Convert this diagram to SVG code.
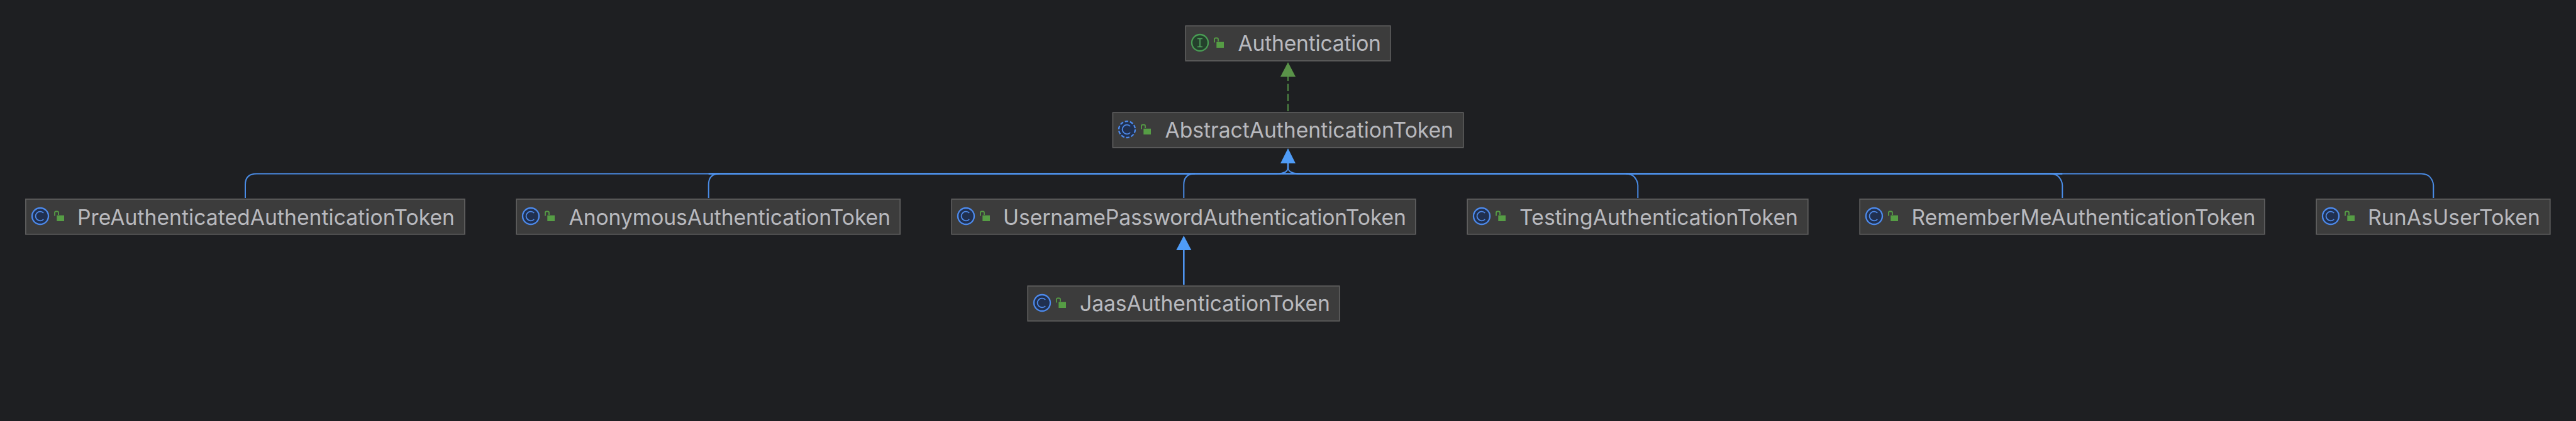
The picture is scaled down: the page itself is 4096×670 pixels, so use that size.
<svg xmlns="http://www.w3.org/2000/svg" width="4096" height="670" viewBox="0 0 4096 670">
<style>
.box{fill:#3c3c3c;stroke:#5f5f5f;stroke-width:1.7}
.t{font-family:Inter,"Noto Sans",sans-serif;font-size:33.7px;fill:#b8b9be}
.ci{fill:#203050;stroke:#4d8aec;stroke-width:2.3}
.cc{fill:none;stroke:#4f8ae8;stroke-width:1.8}
.ii{fill:#24402c;stroke:#499c54;stroke-width:2.3}
.lk{fill:#569d45}
.lh{fill:none;stroke:#569d45;stroke-width:1.8}
.e{fill:none;stroke:#4a8ce6;stroke-width:2}
.bus{fill:none;stroke:#4f95f0;stroke-width:2.6}
.a{fill:#4f9cf7}
.g{fill:#5a9349}
.d{fill:none;stroke:#4f8a44;stroke-width:2;stroke-dasharray:11.5 4.5}
</style>
<defs>
<g id="cic"><circle cx="0" cy="0" r="13" class="ci"/><path d="M5.2 -5A7.3 7.3 0 1 0 5.2 5" class="cc"/></g>
<g id="lock"><rect x="26.3" y="-1.3" width="11.7" height="9.3" class="lk"/><path d="M23 -0.5V-5.5Q23 -7.5 25 -7.5H27Q29 -7.5 29 -5.5V-2" class="lh"/></g>
</defs>
<rect width="4096" height="670" fill="#1e1f22"/>
<g id="connectors">
<path class="d" d="M2048 177V122"/>
<path class="g" d="M2048 99L2060 122H2036Z"/>
<path class="e" d="M2048 262V268Q2046 276.5 2030 276.5H408Q390 276.5 390 294V315"/>
<path class="e" d="M1126.7 315V294Q1126.7 276.5 1144 276.5"/>
<path class="e" d="M1882.3 315V294Q1882.3 276.5 1900 276.5"/>
<path class="e" d="M2048 268Q2050 276.5 2068 276.5H3850Q3860 277 3864 282Q3869 288 3869.3 295V315"/>
<path class="e" d="M2604.3 315V295Q2604 288 2599 282Q2595 277 2585 276.5"/>
<path class="e" d="M3279.3 315V295Q3279 288 3274 282Q3270 277 3260 276.5"/>
<path class="bus" d="M1126.7 276.5H3279.3"/>
<path class="bus" d="M2048 258V269"/>
<path class="a" d="M2048 236L2060 260H2036Z"/>
<path class="bus" d="M1882.3 453.3V396"/>
<path class="a" d="M1882.3 375L1894.3 398H1870.3Z"/>
</g>
<g id="authentication"><rect class="box" x="1885.2" y="41.2" width="325.6" height="55.6"/><circle cx="1908" cy="68" r="13" class="ii"/><path d="M1904 61.5H1912M1908 61.5V74.5M1904 74.5H1912" fill="none" stroke="#52a45e" stroke-width="1.6"/><use href="#lock" x="1908" y="68"/><text class="t" x="1968.5" y="81" textLength="227.5">Authentication</text></g>
<g id="abstract"><rect class="box" x="1769.4" y="179.2" width="557.4" height="55.6"/><circle cx="1792" cy="206" r="13" class="ci" stroke-dasharray="5.5 2.7"/><path d="M1797.2 201A7.3 7.3 0 1 0 1797.2 211" class="cc"/><use href="#lock" x="1792" y="206"/><text class="t" x="1852.5" y="219" textLength="458.5">AbstractAuthenticationToken</text></g>
<g id="pre"><rect class="box" x="40.9" y="316.9" width="698" height="55.9"/><use href="#cic" x="64" y="344"/><use href="#lock" x="64" y="344"/><text class="t" x="123" y="357.5" textLength="600">PreAuthenticatedAuthenticationToken</text></g>
<g id="anon"><rect class="box" x="821.2" y="316.9" width="610" height="55.9"/><use href="#cic" x="844" y="344"/><use href="#lock" x="844" y="344"/><text class="t" x="904.5" y="357.5" textLength="511.5">AnonymousAuthenticationToken</text></g>
<g id="username"><rect class="box" x="1513.2" y="316.9" width="737.6" height="55.9"/><use href="#cic" x="1536" y="344"/><use href="#lock" x="1536" y="344"/><text class="t" x="1595" y="357.5" textLength="641">UsernamePasswordAuthenticationToken</text></g>
<g id="testing"><rect class="box" x="2333.2" y="316.9" width="541.6" height="55.9"/><use href="#cic" x="2356" y="344"/><use href="#lock" x="2356" y="344"/><text class="t" x="2416" y="357.5" textLength="443">TestingAuthenticationToken</text></g>
<g id="rememberme"><rect class="box" x="2957.2" y="316.9" width="643.6" height="55.9"/><use href="#cic" x="2980" y="344"/><use href="#lock" x="2980" y="344"/><text class="t" x="3039.5" y="357.5" textLength="547">RememberMeAuthenticationToken</text></g>
<g id="runas"><rect class="box" x="3683.2" y="316.9" width="371.6" height="55.9"/><use href="#cic" x="3706" y="344"/><use href="#lock" x="3706" y="344"/><text class="t" x="3765" y="357.5" textLength="274">RunAsUserToken</text></g>
<g id="jaas"><rect class="box" x="1634.2" y="455.2" width="495.6" height="55.6"/><use href="#cic" x="1657" y="482"/><use href="#lock" x="1657" y="482"/><text class="t" x="1717" y="495" textLength="398">JaasAuthenticationToken</text></g>
</svg>
